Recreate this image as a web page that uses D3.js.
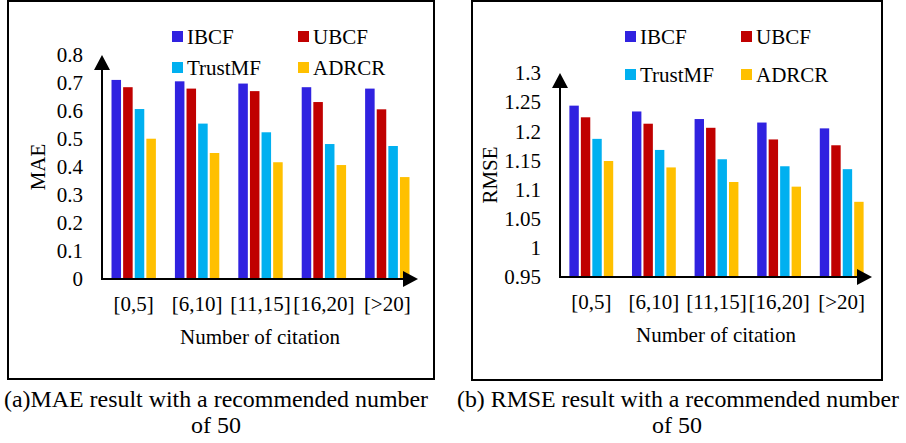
<!DOCTYPE html>
<html>
<head>
<meta charset="utf-8">
<script src="https://cdn.jsdelivr.net/npm/d3@7"></script>
<style>
  html, body { margin: 0; padding: 0; background: #fff; }
  svg { display: block; }
  text { font-family: "Liberation Serif", "Times New Roman", serif; fill: #000; }
</style>
</head>
<body>
<svg id="chart" width="906" height="443"></svg>
<script>
// ---- data ----
const categories = ["[0,5]", "[6,10]", "[11,15]", "[16,20]", "[>20]"];
const seriesNames = ["IBCF", "UBCF", "TrustMF", "ADRCR"];
const seriesColors = ["#3022E0", "#C00000", "#00B0F0", "#FFC000"];

const maeIBCF    = [0.711, 0.706, 0.698, 0.685, 0.680];
const maeUBCF    = [0.685, 0.680, 0.671, 0.632, 0.606];
const maeTrustMF = [0.607, 0.555, 0.524, 0.482, 0.475];
const maeADRCR   = [0.501, 0.450, 0.417, 0.407, 0.364];

const rmseIBCF    = [1.244, 1.234, 1.221, 1.215, 1.205];
const rmseUBCF    = [1.224, 1.213, 1.206, 1.186, 1.176];
const rmseTrustMF = [1.187, 1.168, 1.152, 1.140, 1.135];
const rmseADRCR   = [1.149, 1.138, 1.113, 1.105, 1.079];

const maeTicks  = [0, 0.1, 0.2, 0.3, 0.4, 0.5, 0.6, 0.7, 0.8];
const rmseTicks = [0.95, 1, 1.05, 1.1, 1.15, 1.2, 1.25, 1.3];

const xTitle = "Number of citation";
const captionA = ["(a)MAE result with a recommended number", "of 50"];
const captionB = ["(b) RMSE result with a recommended number", "of 50"];

// ---- drawing ----
const svg = d3.select("#chart");
svg.append("rect").attr("width", 906).attr("height", 443).attr("fill", "#fff");

function drawPanel(cfg) {
  const g = svg.append("g");
  // frame
  g.append("rect")
    .attr("x", cfg.frame[0]).attr("y", cfg.frame[1])
    .attr("width", cfg.frame[2]).attr("height", cfg.frame[3])
    .attr("fill", "none").attr("stroke", "#000").attr("stroke-width", 2);

  const x0 = d3.scaleBand().domain(categories).range(cfg.xRange)
    .paddingInner(0.3).paddingOuter(0.15);
  const x1 = d3.scaleBand().domain(seriesNames).range([0, x0.bandwidth()])
    .paddingInner(0.18);
  const y = d3.scaleLinear().domain(cfg.yDomain).range(cfg.yRange);

  const rows = categories.map((c, i) => ({
    cat: c,
    vals: seriesNames.map((s, j) => ({ s, v: cfg.series[j][i], color: seriesColors[j] }))
  }));

  const groups = g.selectAll("g.grp").data(rows).enter().append("g")
    .attr("transform", d => `translate(${x0(d.cat)},0)`);
  groups.selectAll("rect").data(d => d.vals).enter().append("rect")
    .attr("x", d => x1(d.s))
    .attr("width", x1.bandwidth())
    .attr("y", d => y(d.v))
    .attr("height", d => y(cfg.yDomain[0]) - y(d.v))
    .attr("fill", d => d.color);

  // y axis labels
  const yAx = g.append("g").attr("transform", `translate(${cfg.xRange[0]},0)`)
    .call(d3.axisLeft(y).tickValues(cfg.ticks).tickSize(0).tickPadding(19)
      .tickFormat(d => String(+d.toFixed(2))));
  yAx.select(".domain").remove();
  yAx.selectAll("text").attr("font-size", 21)
    .attr("font-family", '"Liberation Serif", "Times New Roman", serif').attr("fill", "#000");

  // x axis labels
  const y0 = y(cfg.yDomain[0]);
  const xAx = g.append("g").attr("transform", `translate(0,${y0})`)
    .call(d3.axisBottom(x0).tickSize(0).tickPadding(17));
  xAx.select(".domain").remove();
  xAx.selectAll("text").attr("font-size", 21)
    .attr("font-family", '"Liberation Serif", "Times New Roman", serif').attr("fill", "#000");

  // axes lines with arrows
  const xa = cfg.xRange[0];
  const yTop = y(cfg.yDomain[1]);
  g.append("line").attr("x1", xa).attr("x2", xa).attr("y1", y0 + 1).attr("y2", yTop + 10)
    .attr("stroke", "#000").attr("stroke-width", 2);
  g.append("path")
    .attr("d", `M${xa},${yTop} L${xa - 8},${yTop + 15} L${xa + 8},${yTop + 15} Z`)
    .attr("fill", "#000");
  const xEnd = cfg.arrowX;
  g.append("line").attr("x1", xa - 1).attr("x2", xEnd - 10).attr("y1", y0).attr("y2", y0)
    .attr("stroke", "#000").attr("stroke-width", 2);
  g.append("path")
    .attr("d", `M${xEnd},${y0} L${xEnd - 15},${y0 - 8} L${xEnd - 15},${y0 + 8} Z`)
    .attr("fill", "#000");

  // y title
  g.append("text")
    .attr("transform", `translate(${cfg.yTitlePos[0]},${cfg.yTitlePos[1]}) rotate(-90)`)
    .attr("text-anchor", "middle").attr("font-size", 21).text(cfg.yTitle);

  // x title
  g.append("text").attr("x", cfg.xTitlePos[0]).attr("y", cfg.xTitlePos[1])
    .attr("text-anchor", "middle").attr("font-size", 21).text(xTitle);

  // legend
  seriesNames.forEach((s, j) => {
    const lx = cfg.legendX[j % 2];
    const ly = cfg.legendY[Math.floor(j / 2)];
    g.append("rect").attr("x", lx).attr("y", ly).attr("width", 11).attr("height", 11)
      .attr("fill", seriesColors[j]);
    g.append("text").attr("x", lx + 15).attr("y", ly + 12.5)
      .attr("font-size", 21).text(s);
  });

  // caption
  g.append("text").attr("x", cfg.capX).attr("y", 407)
    .attr("text-anchor", "middle").attr("font-size", 24)
    .attr("textLength", cfg.capLen).attr("lengthAdjust", "spacingAndGlyphs")
    .text(cfg.caption[0]);
  g.append("text").attr("x", cfg.capX2).attr("y", 433)
    .attr("text-anchor", "middle").attr("font-size", 24)
    .text(cfg.caption[1]);
}

drawPanel({
  frame: [8, 1, 426, 378],
  xRange: [102, 419],
  arrowX: 418,
  yDomain: [0, 0.8],
  yRange: [279, 55],
  ticks: maeTicks,
  series: [maeIBCF, maeUBCF, maeTrustMF, maeADRCR],
  yTitle: "MAE",
  yTitlePos: [45, 167],
  xTitlePos: [260, 344],
  legendX: [172, 298],
  legendY: [31, 62],
  caption: captionA,
  capX: 216, capLen: 424, capX2: 216
});

drawPanel({
  frame: [472, 1, 410, 379],
  xRange: [560, 873],
  arrowX: 872,
  yDomain: [0.95, 1.3],
  yRange: [277, 73],
  ticks: rmseTicks,
  series: [rmseIBCF, rmseUBCF, rmseTrustMF, rmseADRCR],
  yTitle: "RMSE",
  yTitlePos: [497, 175],
  xTitlePos: [716, 342],
  legendX: [625, 741],
  legendY: [31, 69],
  caption: captionB,
  capX: 678, capLen: 442, capX2: 677
});
</script>
</body>
</html>
